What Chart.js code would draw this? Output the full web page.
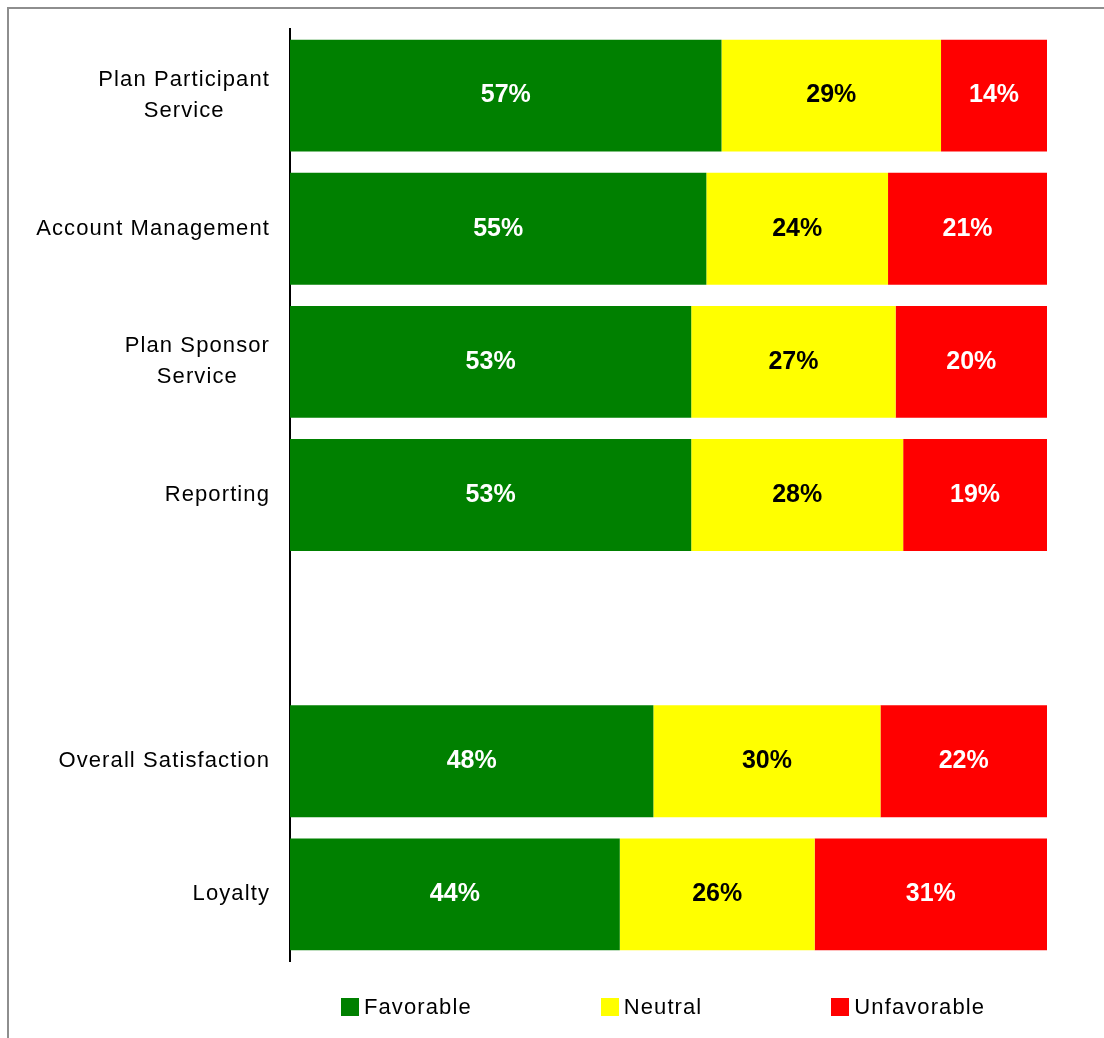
<!DOCTYPE html>
<html>
<head>
    <script src="https://cdn.jsdelivr.net/npm/chart.js@4.4.1/dist/chart.umd.min.js"></script>
    <style>
        body{
            margin: 0;
            width: 1104px;
            height: 1038px;
            overflow: hidden;
            background: #fff;
            position: relative;
            font-family: "Liberation Sans", Arial, sans-serif;
        }
        #frame{
            position: absolute;
            left: 7px;
            top: 7px;
            width: 1200px;
            height: 1200px;
            border-top: 2px solid #8e8e8e;
            border-left: 2px solid #8e8e8e;
        }
        #chart-div{
            position: absolute;
            left: 0;
            top: 0;
            width: 1104px;
            height: 1038px;
        }
        #legend{
            position: absolute;
            left: 341px;
            top: 994px;
            display: flex;
            gap: 129px;
            font-size: 22px;
            letter-spacing: 1.1px;
            color: #000;
        }
        .legend-item{
            display: flex;
            align-items: center;
        }
        .legend-box{
            width: 18px;
            height: 18px;
            margin-right: 5px;
        }
    </style>
</head>
<body>
<div id="frame"></div>
<div id="chart-div">
    <canvas id="chart"></canvas>
</div>
<div id="legend"></div>
<script>
// rows, top to bottom (the blank one is a spacer between the groups)
const categories = [
    ['Plan Participant', 'Service'],
    'Account Management',
    ['Plan Sponsor', 'Service'],
    'Reporting',
    '',
    'Overall Satisfaction',
    'Loyalty'
];
const seriesNames = ['Favorable', 'Neutral', 'Unfavorable'];
const favorable   = [57, 55, 53, 53, null, 48, 44];
const neutral     = [29, 24, 27, 28, null, 30, 26];
const unfavorable = [14, 21, 20, 19, null, 22, 31];

const seriesColors = ['#008000', '#FFFF00', '#FF0000'];
const labelColors  = ['#FFFFFF', '#000000', '#FFFFFF'];

const FONT = '"Liberation Sans", Arial, sans-serif';
const raw = [favorable, neutral, unfavorable];

// each row is drawn as 100% of its own total
const shares = raw.map(arr => arr.map((v, i) => {
    if (v === null) return null;
    const total = favorable[i] + neutral[i] + unfavorable[i];
    return v / total * 100;
}));

// category names, right-aligned to the axis, lines centred within a label
const categoryLabels = {
    id: 'categoryLabels',
    afterDraw(chart) {
        const ctx = chart.ctx;
        const scale = chart.scales.y;
        const right = chart.chartArea.left - 20;
        const lineHeight = 31;
        ctx.save();
        ctx.letterSpacing = '1.1px';
        ctx.font = '22px ' + FONT;
        ctx.fillStyle = '#000';
        ctx.textAlign = 'center';
        ctx.textBaseline = 'middle';
        categories.forEach((label, i) => {
            const lines = Array.isArray(label) ? label : [label];
            if (!lines[0]) return;
            const maxW = Math.max(...lines.map(l => ctx.measureText(l).width));
            const cx = right - maxW / 2;
            const cy = scale.getPixelForValue(i);
            const y0 = cy - (lines.length - 1) * lineHeight / 2;
            lines.forEach((l, k) => ctx.fillText(l, cx, y0 + k * lineHeight));
        });
        ctx.restore();
    }
};

// percentage written in the middle of every segment
const valueLabels = {
    id: 'valueLabels',
    afterDatasetsDraw(chart) {
        const ctx = chart.ctx;
        ctx.save();
        ctx.font = 'bold 25px ' + FONT;
        ctx.textAlign = 'center';
        ctx.textBaseline = 'middle';
        chart.data.datasets.forEach((ds, d) => {
            const meta = chart.getDatasetMeta(d);
            meta.data.forEach((bar, i) => {
                const v = raw[d][i];
                if (v === null) return;
                const p = bar.getProps(['x', 'y', 'base'], true);
                ctx.fillStyle = labelColors[d];
                ctx.fillText(v + '%', (p.x + p.base) / 2, p.y);
            });
        });
        ctx.restore();
    }
};

const ctx = document.getElementById('chart').getContext('2d');
const myChart = new Chart(ctx, {
    type: 'bar',
    data: {
        labels: categories,
        datasets: seriesNames.map((name, d) => ({
            label: name,
            data: shares[d],
            backgroundColor: seriesColors[d],
            borderWidth: 0,
            barPercentage: 0.84,
            categoryPercentage: 1
        }))
    },
    options: {
        indexAxis: 'y',
        responsive: true,
        maintainAspectRatio: false,
        animation: false,
        layout: {
            padding: { left: 0, right: 57, top: 29, bottom: 77 }
        },
        scales: {
            x: {
                stacked: true,
                min: 0,
                max: 100,
                display: false
            },
            y: {
                stacked: true,
                grid: { display: false, drawTicks: false },
                ticks: { display: false },
                border: { display: true, color: '#000', width: 2 },
                afterFit(scale) {
                    scale.width = 290;
                }
            }
        },
        plugins: {
            legend: { display: false },
            tooltip: { enabled: false }
        }
    },
    plugins: [categoryLabels, valueLabels]
});

// legend below the bars
const legend = document.getElementById('legend');
seriesNames.forEach((name, d) => {
    const item = document.createElement('div');
    item.className = 'legend-item';
    const box = document.createElement('span');
    box.className = 'legend-box';
    box.style.background = seriesColors[d];
    const text = document.createElement('span');
    text.textContent = name;
    item.appendChild(box);
    item.appendChild(text);
    legend.appendChild(item);
});
</script>
</body>
</html>
